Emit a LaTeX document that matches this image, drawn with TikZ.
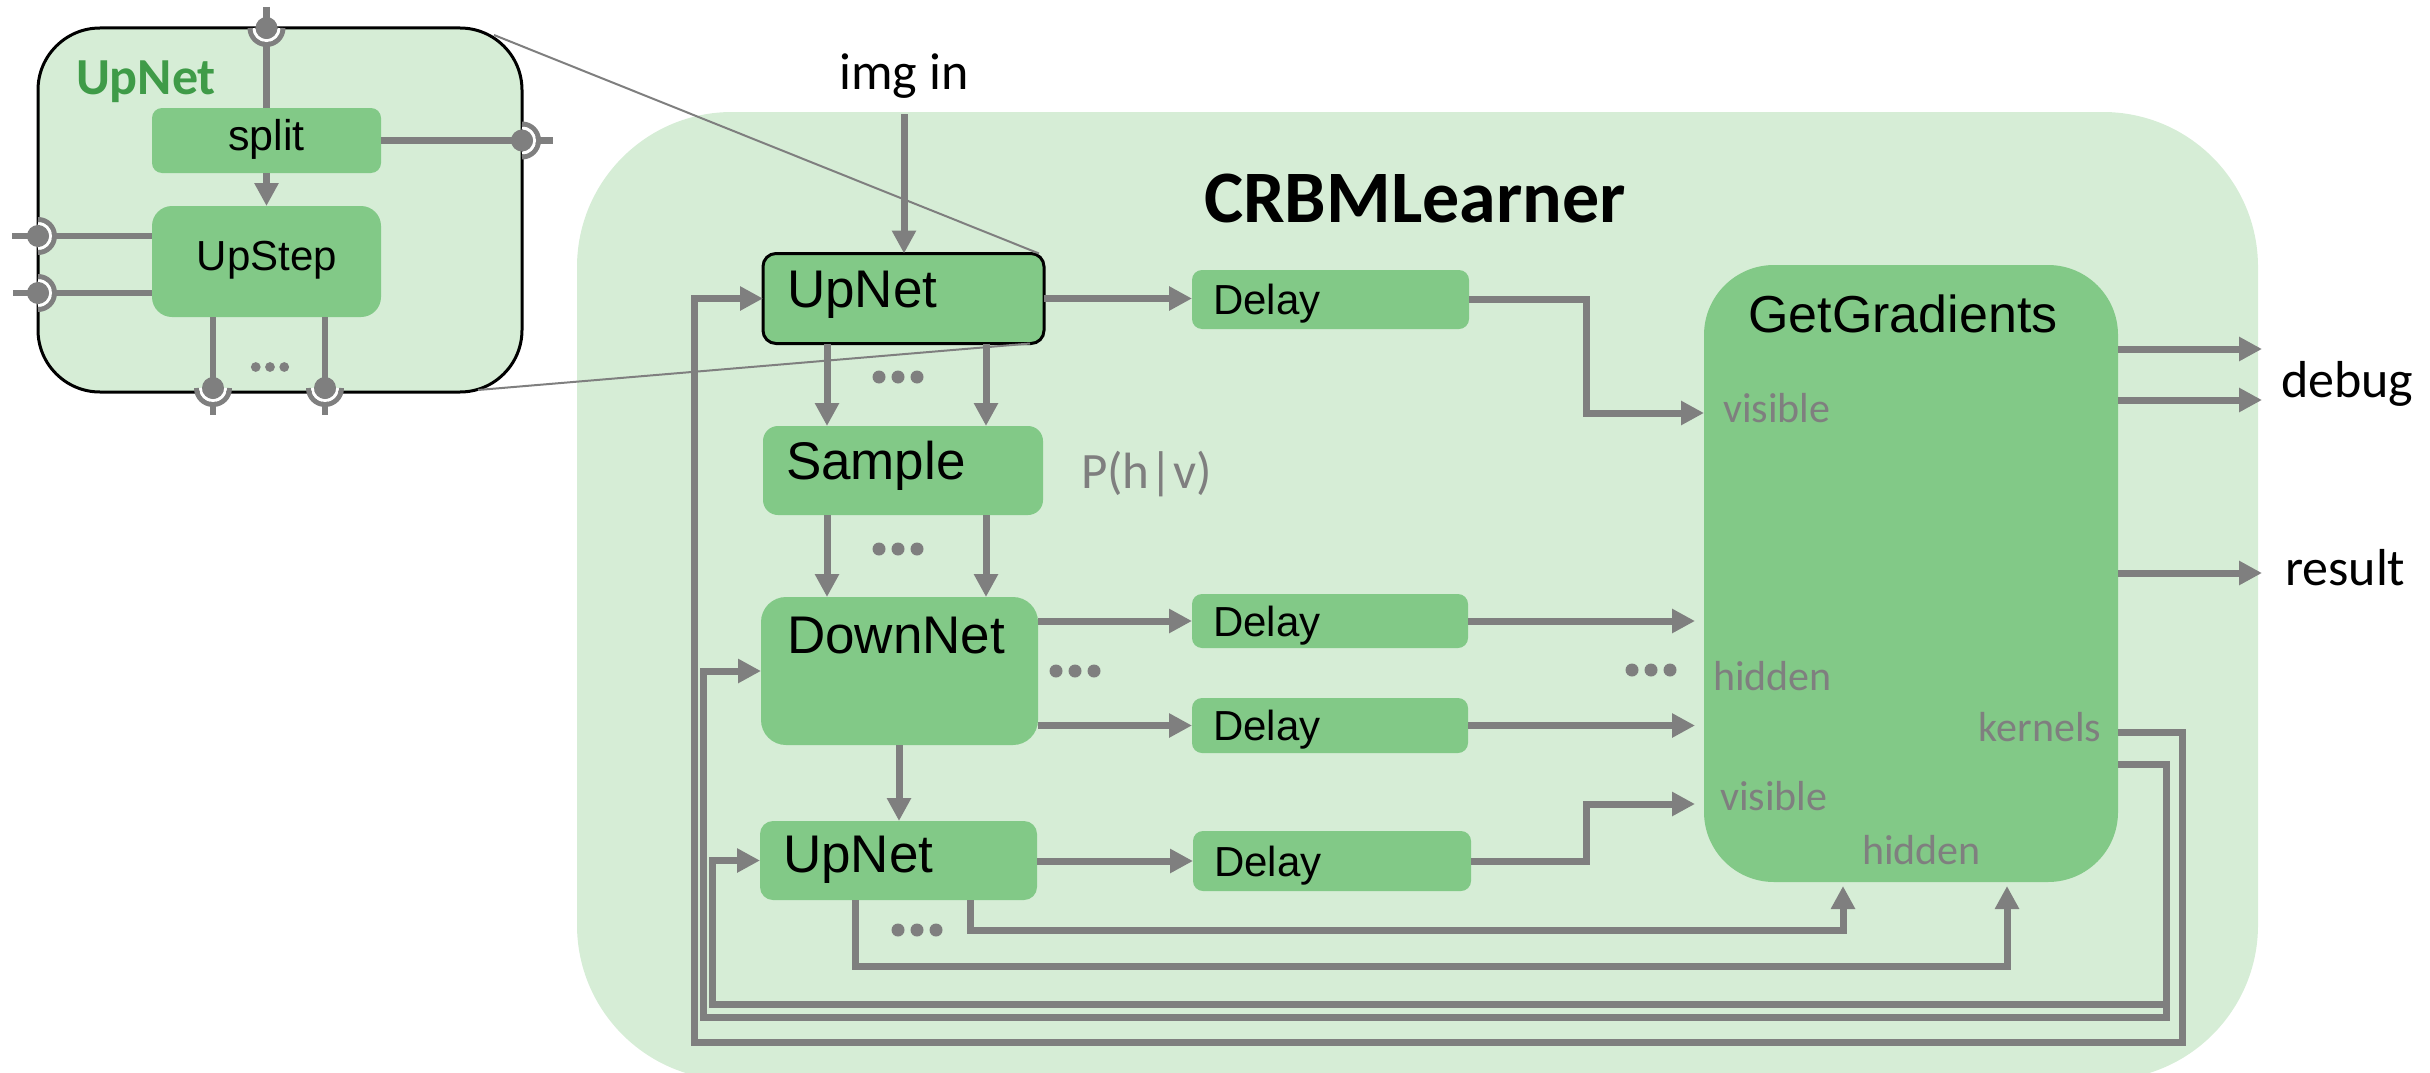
\documentclass[tikz,border=0pt]{standalone}
\usepackage{fontspec}
\setmainfont{Liberation Sans}
\newfontfamily\calibfont{Carlito}
\usetikzlibrary{arrows.meta}

\definecolor{panelgreen}{HTML}{D6EDD6}
\definecolor{blockgreen}{HTML}{82C987}
\definecolor{wiregray}{HTML}{7F7F7F}
\definecolor{titlegreen}{HTML}{3F9B48}

\newcommand\setfs[1]{\fontsize{#1pt}{#1pt}\selectfont}

\begin{document}
\begin{tikzpicture}[x=1pt, y=-1pt,
  panel/.style={rectangle, rounded corners=#1, fill=panelgreen, inner sep=0pt, outer sep=0pt},
  block/.style={rectangle, rounded corners=#1, fill=blockgreen, inner sep=0pt, outer sep=0pt},
  wire/.style={draw=wiregray, line width=7pt},
  flow/.style={wire, -{Triangle[length=23pt,width=23pt]}},
  thinwire/.style={draw=wiregray, line width=6.5pt},
  zoomline/.style={draw=wiregray, line width=2pt},
  txt/.style={inner sep=0pt, outer sep=0pt, text=black},
  big/.style={txt, font=\setfs{53}},
  small/.style={txt, font=\setfs{42}},
  callabel/.style={txt, font=\calibfont\setfs{52}},
  portlabel/.style={txt, font=\calibfont\setfs{42}, text=wiregray},
  ellip/.pic={\foreach \dx in {-19,0,19} \fill[wiregray] (\dx,0) circle[radius=6.5pt];},
  socket/.pic={
    \draw[wiregray, line width=5pt] (90:16.5pt) arc[start angle=90, end angle=-90, radius=16.5pt];
    \draw[white, line width=3pt] (90:12.5pt) arc[start angle=90, end angle=-90, radius=12.5pt];
    \fill[wiregray] (0,0) circle[radius=11pt];
  }
]
\useasboundingbox (0,0) rectangle (2430,1073);

% ---------- CRBMLearner container ----------
\node[panel=155pt, minimum width=1681pt, minimum height=968pt] (crbm) at (1417.5,596) {};
\node[txt, font=\calibfont\bfseries\setfs{74}, anchor=base west] (crbmTitle) at (1204,222) {CRBMLearner};

% ---------- blocks ----------
\node[block=13pt, draw=black, line width=3pt, minimum width=281pt, minimum height=90pt] (upnetA) at (903.5,298.5) {};
\node[block=10pt, minimum width=277pt, minimum height=59pt] (delay1) at (1330.5,299.5) {};
\node[block=15pt, minimum width=280pt, minimum height=89pt] (sample) at (903,470.5) {};
\node[block=25pt, minimum width=277pt, minimum height=148pt] (downnet) at (899.5,671) {};
\node[block=10pt, minimum width=276pt, minimum height=54pt] (delay2) at (1330,621) {};
\node[block=10pt, minimum width=276pt, minimum height=55pt] (delay3) at (1330,725.5) {};
\node[block=13pt, minimum width=277pt, minimum height=79pt] (upnetB) at (898.5,860.5) {};
\node[block=10pt, minimum width=278pt, minimum height=60pt] (delay4) at (1332,861) {};
\node[block=70pt, minimum width=414pt, minimum height=617pt] (gg) at (1911,573.5) {};

% ---------- helper rows and columns ----------
\coordinate (imgSrc) at (904,114);
\coordinate (colA) at (827,0);
\coordinate (colB) at (986,0);
\coordinate (colC) at (899,0);
\coordinate (colJog) at (1586,0);
\coordinate (colIn) at (1695,0);
\coordinate (colOut) at (2262,0);
\coordinate (rowVisA) at (0,413);
\coordinate (rowVisB) at (0,804);
\coordinate (rowDbgA) at (0,349);
\coordinate (rowDbgB) at (0,400);
\coordinate (rowRes) at (0,573);
\coordinate (rowKer) at (0,732);
\coordinate (rowBack) at (0,764);
\coordinate (colUa) at (970,0);
\coordinate (colUb) at (855,0);
\coordinate (colGa) at (1843,0);
\coordinate (colGb) at (2007,0);
\coordinate (rowGa) at (0,930);
\coordinate (rowGb) at (0,966);
\coordinate (colRa) at (2182,0);
\coordinate (colRb) at (2166,0);
\coordinate (rowFa) at (0,1042);
\coordinate (rowFb) at (0,1017);
\coordinate (rowFc) at (0,1004);
\coordinate (colFa) at (694,0);
\coordinate (colFb) at (703,0);
\coordinate (colFc) at (712,0);

% ---------- connectors ----------
\draw[flow] (imgSrc) -- (imgSrc |- upnetA.north);
\draw[flow] (upnetA.east) -- (upnetA.east -| delay1.west);
\draw[flow] (upnetA.south -| colA) -- (sample.north -| colA);
\draw[flow] (upnetA.south -| colB) -- (sample.north -| colB);
\draw[flow] (sample.south -| colA) -- (downnet.north -| colA);
\draw[flow] (sample.south -| colB) -- (downnet.north -| colB);
\draw[flow] (downnet.east |- delay2.west) -- (delay2.west);
\draw[flow] (downnet.east |- delay3.west) -- (delay3.west);
\draw[flow] (downnet.south -| colC) -- (upnetB.north -| colC);
\draw[flow] (upnetB.east |- delay4.west) -- (delay4.west);

\draw[flow] (delay1.east) -| (colJog |- rowVisA) -- (gg.west |- rowVisA);
\draw[flow] (delay2.east) -- (colIn |- delay2.east);
\draw[flow] (delay3.east) -- (colIn |- delay3.east);
\draw[flow] (delay4.east) -| (colJog |- rowVisB) -- (colIn |- rowVisB);

\draw[flow, shorten >=4pt] (upnetB.south -| colUa) |- (colGa |- rowGa) -- (gg.south -| colGa);
\draw[flow, shorten >=4pt] (upnetB.south -| colUb) |- (colGb |- rowGb) -- (gg.south -| colGb);

\draw[flow] (gg.east |- rowDbgA) -- (colOut |- rowDbgA);
\draw[flow] (gg.east |- rowDbgB) -- (colOut |- rowDbgB);
\draw[flow] (gg.east |- rowRes) -- (colOut |- rowRes);

% feedback of kernels and hidden states
\draw[flow] (gg.east |- rowKer) -| (colRa |- rowFa) -| (colFa |- upnetA.west) -- (upnetA.west);
\draw[flow] (gg.east |- rowBack) -| (colRb |- rowFb) -| (colFb |- downnet.west) -- (downnet.west);
\draw[flow] (colRb |- rowFc) -| (colFc |- upnetB.west) -- (upnetB.west);

% ---------- texts ----------
\node[callabel, anchor=base] (imgIn) at (904,89) {img in};
\node[big, anchor=base west] (tUpnetA) at (787,307) {UpNet};
\node[small, anchor=base west] (tDelay1) at (1213,314.5) {Delay};
\node[big, anchor=base west] (tSample) at (786,479) {Sample};
\node[txt, font=\calibfont\setfs{51}, text=wiregray, anchor=base west] (tProb) at (1081,488) {P(h|v)};
\node[big, anchor=base west] (tDownnet) at (787,653) {DownNet};
\node[small, anchor=base west] (tDelay2) at (1213,636) {Delay};
\node[small, anchor=base west] (tDelay3) at (1213,740.5) {Delay};
\node[big, anchor=base west] (tUpnetB) at (783,872) {UpNet};
\node[small, anchor=base west] (tDelay4) at (1214,876) {Delay};
\node[txt, font=\setfs{52}, anchor=base] (tGG) at (1903,332) {GetGradients};
\node[portlabel, anchor=base west] (lVisA) at (1723,422) {visible};
\node[portlabel, anchor=base west] (lHidA) at (1713,690) {hidden};
\node[portlabel, anchor=base east] (lKer) at (2101,741) {kernels};
\node[portlabel, anchor=base west] (lVisB) at (1720,810) {visible};
\node[portlabel, anchor=base west] (lHidB) at (1862,864) {hidden};
\node[callabel, anchor=base west] (tDebug) at (2281,397) {debug};
\node[callabel, anchor=base west] (tResult) at (2285,585) {result};

% elided parallel channels
\pic at (898,377) {ellip};
\pic at (898,549) {ellip};
\pic at (1075,671) {ellip};
\pic at (1651,670) {ellip};
\pic at (917,930) {ellip};

% ---------- UpNet detail ----------
\node[panel=62pt, draw=black, line width=3pt, minimum width=484pt, minimum height=364pt] (inset) at (280,210) {};
\node[block=10pt, minimum width=229pt, minimum height=65pt] (split) at (266.5,140.5) {};
\node[block=20pt, minimum width=229pt, minimum height=111pt] (upstep) at (266.5,261.5) {};
\node[txt, font=\calibfont\bfseries\setfs{52}, text=titlegreen, anchor=base west] (insetTitle) at (76,95) {UpNet};
\node[txt, font=\setfs{43}, anchor=base] (tSplit) at (266.5,150) {split};
\node[txt, font=\setfs{42}, anchor=base] (tUpstep) at (267,270) {UpStep};

\coordinate (pinTop) at (266.5,28);
\coordinate (pinTopEnd) at (266.5,7);
\coordinate (poutR) at (522,140.5);
\coordinate (poutREnd) at (553,140.5);
\coordinate (pinLa) at (38,236);
\coordinate (pinLaEnd) at (12,236);
\coordinate (pinLb) at (38,293);
\coordinate (pinLbEnd) at (13,293);
\coordinate (poutBa) at (213,388);
\coordinate (poutBaEnd) at (213,415);
\coordinate (poutBb) at (325,388);
\coordinate (poutBbEnd) at (325,415);

\draw[thinwire] (pinTopEnd) -- (pinTop) -- (split.north);
\draw[thinwire] (split.east) -- (poutR) -- (poutREnd);
\draw[thinwire] (pinLaEnd) -- (pinLa) -- (upstep.west |- pinLa);
\draw[thinwire] (pinLbEnd) -- (pinLb) -- (upstep.west |- pinLb);
\draw[thinwire] (upstep.south -| poutBa) -- (poutBa) -- (poutBaEnd);
\draw[thinwire] (upstep.south -| poutBb) -- (poutBb) -- (poutBbEnd);
\draw[thinwire, -{Triangle[length=23pt,width=23pt]}] (split.south) -- (upstep.north);

\pic[rotate=-90] at (pinTop) {socket};
\pic at (poutR) {socket};
\pic at (pinLa) {socket};
\pic at (pinLb) {socket};
\pic[rotate=-90] at (poutBa) {socket};
\pic[rotate=-90] at (poutBb) {socket};
\pic[scale=0.75] at (270,367) {ellip};

% ---------- magnification guides ----------
\coordinate (zoomTop) at (494,35);
\coordinate (zoomBot) at (478,390);
\draw[zoomline] (zoomTop) -- ([xshift=-5pt]upnetA.north east);
\draw[zoomline] (zoomBot) -- ([xshift=-14pt]upnetA.south east);
\end{tikzpicture}
\end{document}
